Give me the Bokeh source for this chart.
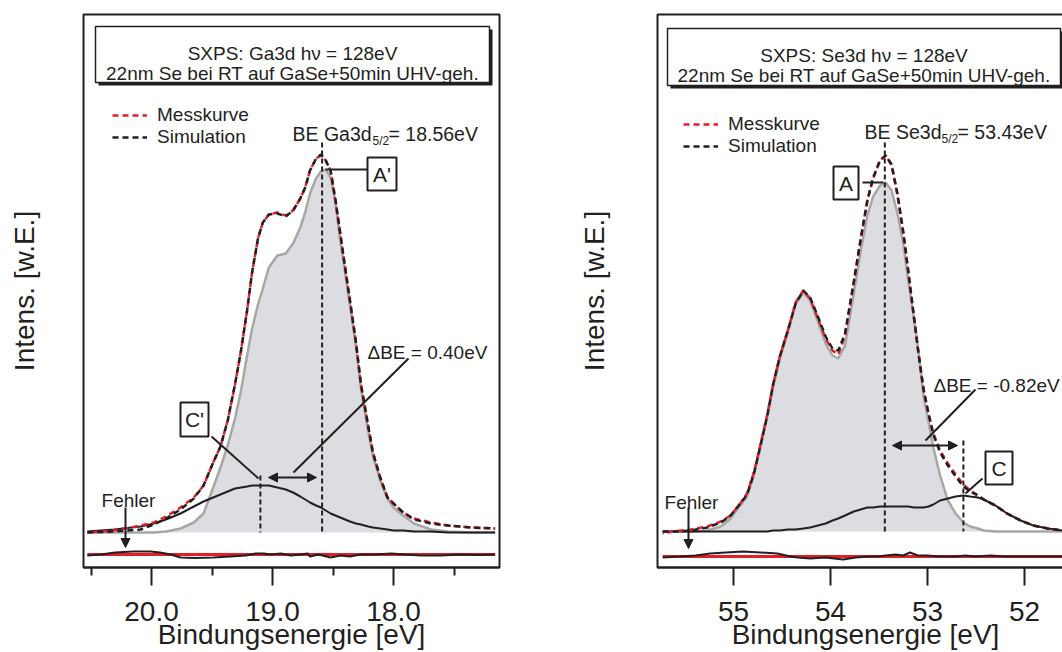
from bokeh.plotting import figure
from bokeh.models import (Range1d, FixedTicker, Label, Legend, LegendItem, Arrow,
                          NormalHead, NumeralTickFormatter, BasicTickFormatter)
from bokeh.layouts import row
from bokeh.embed import file_html
from bokeh.resources import INLINE

FONT = "Liberation Sans"
INK = "#231f20"
RED = "#e41e26"
GRAY_LINE = "#a7a7a7"
GRAY_FILL = "#dcdde0"
NAN = float("nan")

# ---------------- Ga3d panel data (binding energy eV, intensity a.u.) ----------------
ga_E = [20.53, 20.31, 20.09, 19.98, 19.88, 19.76, 19.65, 19.57, 19.49, 19.43,
        19.37, 19.31, 19.26, 19.21, 19.17, 19.12, 19.08, 19.03, 18.96, 18.89,
        18.83, 18.77, 18.73, 18.69, 18.64, 18.60, 18.56, 18.52, 18.48, 18.44,
        18.40, 18.36, 18.31, 18.27, 18.21, 18.17, 18.11, 18.05, 18.00, 17.92,
        17.83, 17.69, 17.55, 17.36, 17.16]
ga_meas = [0, 2, 7, 10, 16, 25, 35, 47, 70, 86,
           112, 148, 182, 222, 259, 294, 310, 318, 320, 317,
           322, 334, 345, 362, 374, 377, 372, 362, 332, 299,
           265, 232, 190, 149, 107, 80, 55, 35, 29, 20,
           14, 10, 7, 5, 4]
ga_sim = [0, 1, 3, 8, 14, 23, 34, 47, 70, 86,
          112, 148, 182, 222, 259, 294, 310, 318, 319, 316,
          322, 334, 345, 362, 374, 378, 372, 362, 333, 299,
          265, 232, 190, 149, 107, 80, 55, 35, 29, 20,
          13, 9, 7, 5, 4]
ga_A = [0, 0, 0, 0, 1, 4, 10, 19, 45, 65,
        87, 114, 142, 177, 203, 228, 244, 265, 277, 279,
        289, 305, 320, 339, 354, 361, 363, 355, 330, 292,
        260, 227, 186, 145, 102, 76, 52, 34, 25, 17,
        9, 3, 1, 0, 0]
ga_C = [1, 3, 6, 9, 13, 19, 26, 31, 35, 38,
        41, 44, 45, 46, 47, 47, 47, 47, 45, 43,
        40, 36, 33, 30, 27, 25, 22, 19, 17, 15,
        13, 11, 9, 8, 6, 5, 4, 3, 2, 2,
        1, 1, 0, 0, 0]
ga_errE = [20.53, 20.42, 20.30, 20.15, 20.01, 19.93, 19.84, 19.76, 19.64, 19.49,
           19.35, 19.22, 19.14, 19.07, 19.02, 18.93, 18.85, 18.77, 18.71, 18.69,
           18.62, 18.52, 18.44, 18.36, 18.27, 18.15, 18.02, 17.90, 17.78, 17.61,
           17.45, 17.28, 17.16]
ga_err = [-1, 0, 2, 3, 3, 2, 0, -3, -3.5, -3,
          -2, -1, 1, 1, 0, 1, -1, 0, 1, -2,
          0, -3, -1, -2, 0, 0, 1, 0, -1, -1,
          0, -0.5, 0]
ga_peaks = [18.59, 19.10]          # A', C'
ga_ticks = [20.0, 19.0, 18.0]
ga_minor = [20.5, 19.5, 18.5, 17.5]

# ---------------- Se3d panel data ----------------
se_E = [55.73, 55.62, 55.44, 55.27, 55.13, 55.03, 54.93, 54.86, 54.79, 54.72,
        54.65, 54.59, 54.52, 54.44, 54.36, 54.28, 54.21, 54.13, 54.05, 53.98,
        53.92, 53.85, 53.76, 53.69, 53.62, 53.56, 53.49, 53.43, 53.37, 53.31,
        53.25, 53.20, 53.14, 53.09, 53.04, 52.99, 52.94, 52.87, 52.79, 52.71,
        52.63, 52.56, 52.48, 52.42, 52.30, 52.18, 52.04, 51.91, 51.76, 51.61,
        51.51]
se_meas = [-2, 0, 2, 5, 10, 16, 28, 38, 59, 88,
           118, 148, 176, 201, 229, 241, 233, 213, 193, 181,
           177, 196, 248, 291, 331, 353, 371, 376, 366, 336,
           298, 261, 214, 176, 141, 118, 98, 81, 68, 57,
           47, 41, 36, 32, 26, 18, 11, 6, 3, 1,
           0]
se_sim = [0, 0, 1, 4, 9, 16, 28, 37, 58, 87,
          117, 148, 176, 201, 228, 241, 234, 215, 195, 183,
          181, 198, 250, 292, 331, 354, 371, 376, 367, 338,
          300, 262, 215, 176, 142, 118, 97, 79, 66, 55,
          45, 40, 36, 32, 26, 18, 11, 6, 3, 1,
          0]
se_A = [0, 0, 0, 1, 5, 13, 26, 35, 56, 85,
        115, 145, 173, 199, 227, 239, 231, 210, 188, 176,
        173, 186, 238, 280, 316, 335, 346, 349, 341, 318,
        288, 252, 214, 177, 135, 110, 84, 56, 31, 18,
        9, 5, 3, 1, 0, 0, 0, 0, 0, 0,
        0]
se_C = [0, 0, 0, 0, 0, 0, 0, 0, 0, 0,
        0, 1, 1, 2, 2, 3, 4, 6, 8, 11,
        13, 16, 20, 22, 24, 24, 25, 25, 25, 25,
        25, 25, 24, 24, 24, 25, 27, 31, 33, 35,
        36, 35, 34, 32, 26, 18, 11, 6, 3, 1,
        0]
se_errE = [55.73, 55.55, 55.39, 55.24, 55.08, 54.90, 54.72, 54.55, 54.41, 54.34,
           54.21, 54.05, 53.87, 53.74, 53.61, 53.52, 53.43, 53.33, 53.25, 53.18,
           53.10, 53.00, 52.87, 52.71, 52.61, 52.51, 52.35, 52.20, 52.04, 51.84,
           51.61, 51.51]
se_err = [-1, 0, 1, 3, 4, 5, 4, 3, 0, -1,
          -2, -1, -3, -1, 0, 0, 1, 2, 1, 4,
          1, 1, 0, 0, 1, 0, 1, 0, 0, 0,
          0, 0]
se_peaks = [53.44, 52.63]          # A, C
se_ticks = [55, 54, 53, 52]
se_minor = []

X_TITLE = "Bindungsenergie [eV]"
Y_TITLE = "Intens. [w.E.]"


def make_panel(cfg):
    fx, fy = cfg["fx"], cfg["fy"]
    p = figure(width=cfg["width"], height=652,
               x_range=Range1d(fx(cfg["fx0"]), fx(cfg["fx1"])),
               y_range=Range1d(fy(567), fy(14)),
               output_backend="svg", toolbar_location=None, tools="",
               min_border_left=cfg["mbl"], min_border_right=cfg["mbr"],
               min_border_top=14, min_border_bottom=85)
    p.background_fill_color = "white"
    p.border_fill_color = "white"
    p.outline_line_color = INK
    p.outline_line_width = 2
    p.outline_line_alpha = 1
    p.xgrid.visible = False
    p.ygrid.visible = False

    xa = p.xaxis[0]
    xa.ticker = FixedTicker(ticks=cfg["ticks"], minor_ticks=cfg["minor"])
    xa.formatter = cfg["fmt"]
    xa.major_tick_out = 18
    xa.major_tick_in = 0
    xa.minor_tick_out = 8
    xa.minor_tick_in = 0
    xa.major_tick_line_width = 2
    xa.minor_tick_line_width = 2
    xa.major_tick_line_color = INK
    xa.minor_tick_line_color = INK
    xa.axis_line_color = INK
    xa.axis_line_width = 2
    xa.major_label_text_font = FONT
    xa.major_label_text_font_size = "28px"
    xa.major_label_text_color = INK
    xa.major_label_standoff = 16
    xa.axis_label = X_TITLE
    xa.axis_label_text_font = FONT
    xa.axis_label_text_font_size = "28px"
    xa.axis_label_text_font_style = "normal"
    xa.axis_label_text_color = INK
    xa.axis_label_standoff = -5

    ya = p.yaxis[0]
    ya.ticker = FixedTicker(ticks=[])
    ya.major_tick_line_color = None
    ya.minor_tick_line_color = None
    ya.major_label_text_font_size = "0px"
    ya.axis_line_color = None
    ya.axis_label = Y_TITLE
    ya.axis_label_text_font = FONT
    ya.axis_label_text_font_size = "28px"
    ya.axis_label_text_font_style = "normal"
    ya.axis_label_text_color = INK
    ya.axis_label_standoff = cfg["ylab_standoff"]

    E = cfg["E"]
    # component A (grey filled)
    p.varea(x=E, y1=[0] * len(E), y2=cfg["A"], fill_color=GRAY_FILL)
    p.line(E, cfg["A"], line_color=GRAY_LINE, line_width=2.5)
    # component C
    p.line(E, cfg["C"], line_color=INK, line_width=2)
    # peak position markers
    for e, ytop in zip(cfg["peaks"], cfg["peak_tops"]):
        p.segment(x0=[e], y0=[fy(ytop)], x1=[e], y1=[0], line_color=INK,
                  line_width=2, line_dash="5 3")
    # measurement / simulation
    p.line(E, cfg["meas"], line_color=RED, line_width=2.5, line_dash="6 4",
           line_dash_offset=5)
    p.line(E, cfg["sim"], line_color=INK, line_width=2.5, line_dash="6 4")
    # residual (Fehler)
    z = cfg["err_zero"]
    p.line([cfg["errE"][0], cfg["errE"][-1]], [z, z], line_color=RED, line_width=3)
    p.line(cfg["errE"], [z + v for v in cfg["err"]], line_color=INK, line_width=2)

    # legend (sample glyphs only)
    g1 = p.line(x=[NAN], y=[NAN], line_color=RED, line_width=2.5, line_dash="6 4")
    g2 = p.line(x=[NAN], y=[NAN], line_color=INK, line_width=2.5, line_dash="6 4")
    leg = Legend(items=[LegendItem(label="Messkurve", renderers=[g1]),
                        LegendItem(label="Simulation", renderers=[g2])],
                 location=cfg["legend_loc"], border_line_color=None,
                 background_fill_alpha=0, padding=0, margin=0, spacing=0,
                 label_height=22, glyph_height=22, glyph_width=35, label_standoff=10,
                 label_text_font=FONT, label_text_font_size="19px", label_text_color=INK)
    p.add_layout(leg)

    # title box with shadow
    X0, X1, Y0, Y1 = cfg["tbox"]
    p.quad(left=[fx(X0 + 3)], right=[fx(X1 + 3)], top=[fy(Y0 + 3)], bottom=[fy(Y1 + 3)],
           fill_color=INK, line_color=None)
    p.quad(left=[fx(X0)], right=[fx(X1)], top=[fy(Y0)], bottom=[fy(Y1)],
           fill_color="white", line_color=INK, line_width=1.5)
    cxm = (X0 + X1) / 2
    for txt, yb in zip(cfg["title"], cfg["title_y"]):
        p.add_layout(Label(x=fx(cxm), y=fy(yb), text=txt, text_font=FONT,
                           text_font_size="19px", text_color=INK,
                           text_align="center", text_baseline="alphabetic"))

    # BE label with subscript
    for txt, X, Y, size in cfg["be"]:
        p.add_layout(Label(x=fx(X), y=fy(Y), text=txt, text_font=FONT,
                           text_font_size=size, text_color=INK,
                           text_align="left", text_baseline="alphabetic"))

    # peak name boxes
    for name, bx0, bx1, by0, by1 in cfg["boxes"]:
        p.quad(left=[fx(bx0)], right=[fx(bx1)], top=[fy(by0)], bottom=[fy(by1)],
               fill_color="white", line_color=INK, line_width=2)
        p.add_layout(Label(x=fx((bx0 + bx1) / 2), y=fy((by0 + by1) / 2), text=name,
                           text_font=FONT, text_font_size="21px", text_color=INK,
                           text_align="center", text_baseline="middle"))

    # leader lines
    for (ax, ay, bx, by) in cfg["leaders"]:
        p.segment(x0=[fx(ax)], y0=[fy(ay)], x1=[fx(bx)], y1=[fy(by)],
                  line_color=INK, line_width=2)

    # Delta BE label
    txt, X, Y = cfg["dbe"]
    p.add_layout(Label(x=fx(X), y=fy(Y), text=txt, text_font=FONT, text_font_size="19px",
                       text_color=INK, text_align="left", text_baseline="alphabetic"))
    ax0, ax1, ay = cfg["dbl_arrow"]
    p.add_layout(Arrow(x_start=fx(ax0), y_start=fy(ay), x_end=fx(ax1), y_end=fy(ay),
                       line_color=INK, line_width=2,
                       start=NormalHead(size=9, fill_color=INK, line_color=INK, line_width=1),
                       end=NormalHead(size=9, fill_color=INK, line_color=INK, line_width=1)))

    # Fehler
    X, Y = cfg["fehler"]
    p.add_layout(Label(x=fx(X), y=fy(Y), text="Fehler", text_font=FONT, text_font_size="19px",
                       text_color=INK, text_align="center", text_baseline="alphabetic"))
    fX, fY0, fY1 = cfg["fehler_arrow"]
    p.add_layout(Arrow(x_start=fx(fX), y_start=fy(fY0), x_end=fx(fX), y_end=fy(fY1),
                       line_color=INK, line_width=2,
                       end=NormalHead(size=9, fill_color=INK, line_color=INK, line_width=1)))
    return p


left = dict(
    fx=lambda X: 19.0 - (X - 272) / 121.0, fy=lambda Y: 532 - Y,
    fx0=83, fx1=499, width=540, mbl=83, mbr=41, ylab_standoff=44,
    ticks=ga_ticks, minor=ga_minor, fmt=NumeralTickFormatter(format="0.0"),
    E=ga_E, meas=ga_meas, sim=ga_sim, A=ga_A, C=ga_C,
    errE=ga_errE, err=ga_err, err_zero=-22,
    peaks=ga_peaks, peak_tops=[142, 475],
    legend_loc=(29, 419),
    tbox=(95, 489, 26, 82),
    title=["SXPS: Ga3d h\u03bd = 128eV", "22nm Se bei RT auf GaSe+50min UHV-geh."],
    title_y=[53, 73],
    be=[("BE Ga3d", 292, 133, "19.5px"), ("5/2", 372, 140, "12px"), (" = 18.56eV", 388, 133, "19.5px")],
    boxes=[("A'", 367, 396, 157, 190), ("C'", 180, 208, 402, 436)],
    leaders=[(325, 169, 367, 169), (211, 436, 258, 478), (408, 358, 293, 472)],
    dbe=("\u0394BE = 0.40eV", 367, 352),
    dbl_arrow=(268, 316, 477),
    fehler=(128, 500),
    fehler_arrow=(125, 507, 547),
)

right = dict(
    fx=lambda X: 53.0 - (X - 927) / 97.0, fy=lambda Y: 531 - Y,
    fx0=657, fx1=1073, width=533, mbl=117, mbr=0, ylab_standoff=48,
    ticks=se_ticks, minor=se_minor, fmt=BasicTickFormatter(),
    E=se_E, meas=se_meas, sim=se_sim, A=se_A, C=se_C,
    errE=se_errE, err=se_err, err_zero=-25,
    peaks=se_peaks, peak_tops=[142, 440],
    legend_loc=(26, 410),
    tbox=(667, 1060, 28, 85),
    title=["SXPS: Se3d h\u03bd = 128eV", "22nm Se bei RT auf GaSe+50min UHV-geh."],
    title_y=[55, 75],
    be=[("BE Se3d", 864, 131, "19.5px"), ("5/2", 941, 138, "12px"), (" = 53.43eV", 957, 131, "19.5px")],
    boxes=[("A", 833, 858, 166, 199), ("C", 985, 1012, 451, 484)],
    leaders=[(862, 182, 883, 182), (982, 478, 965, 493), (975, 389, 925, 440)],
    dbe=("\u0394BE = -0.82eV", 933, 385),
    dbl_arrow=(892, 957, 445),
    fehler=(691, 502),
    fehler_arrow=(688, 507, 548),
)

p1 = make_panel(left)
p2 = make_panel(right)

layout = row(p1, p2, width=1062, height=652, styles={"overflow": "hidden"})

open("out.html", "w").write(file_html(layout, INLINE))
